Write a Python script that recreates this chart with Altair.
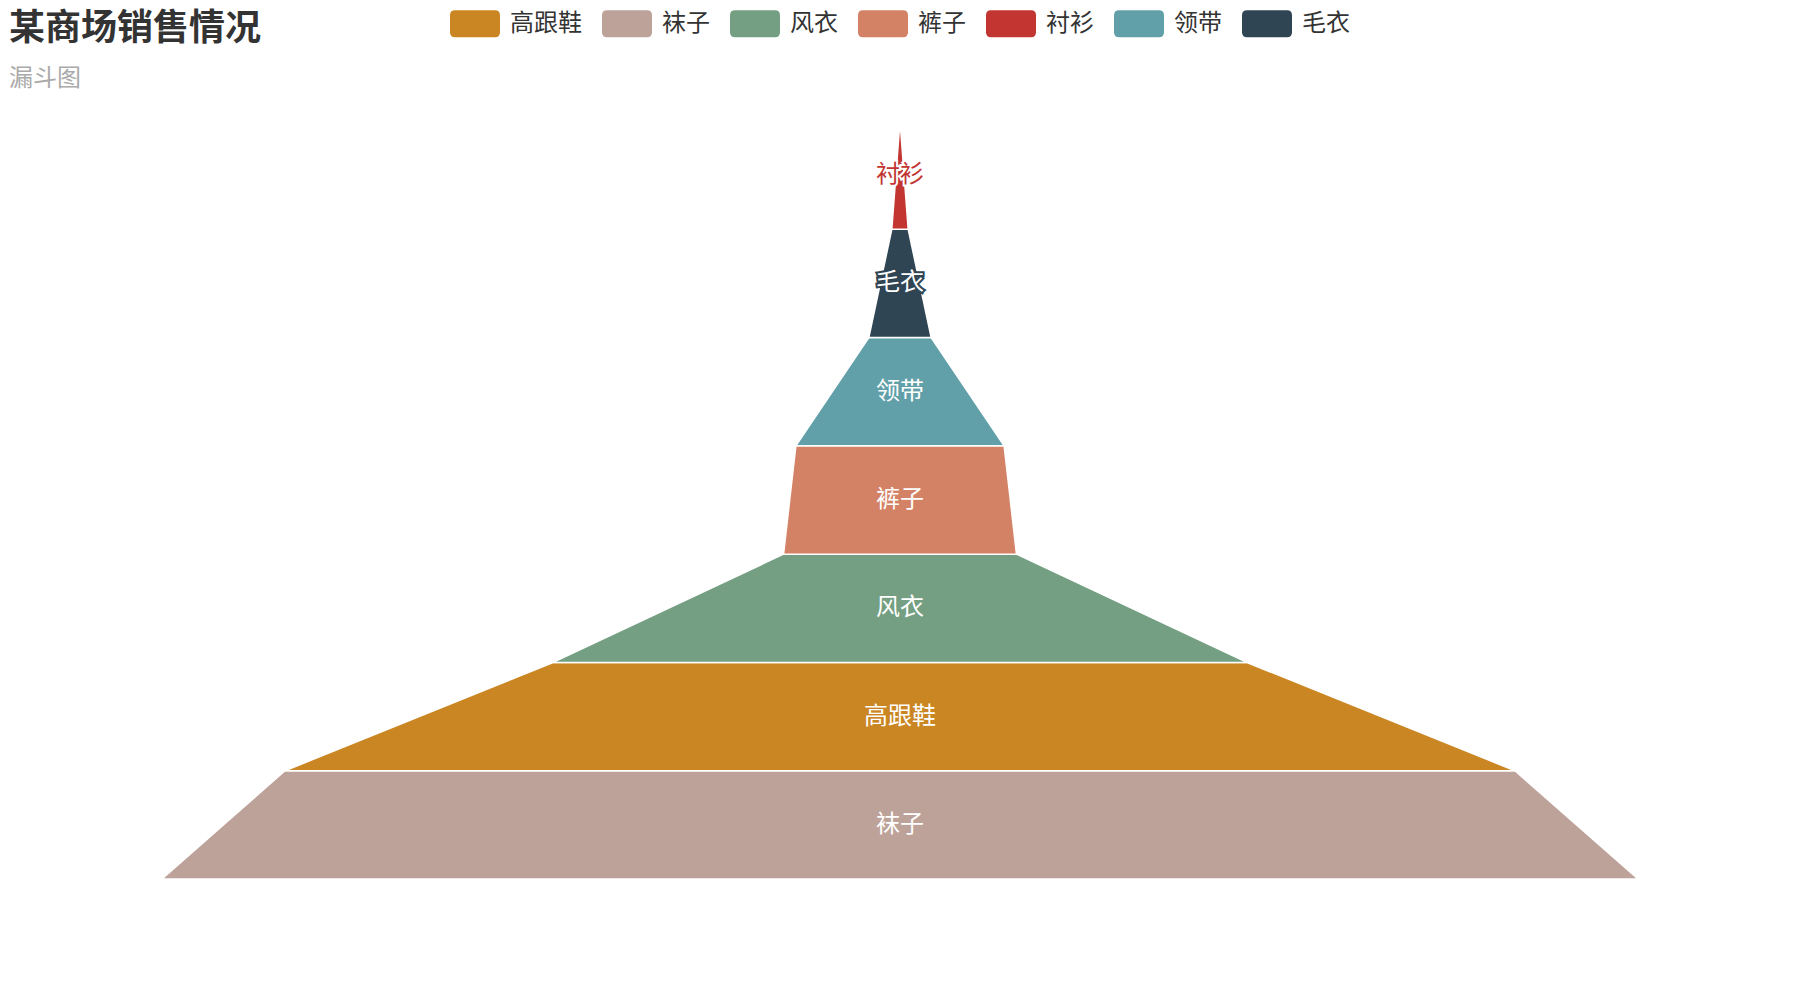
import altair as alt
import pandas as pd

# ---- data ----
names = ['高跟鞋', '袜子', '风衣', '裤子', '衬衫', '领带', '毛衣']
values = [75.0, 90.0, 42.3, 14.2, 1.0, 12.7, 3.8]
colors = ['#ca8622', '#bda29a', '#749f83', '#d48265', '#c23531', '#61a0a8', '#2f4554']
title_text = '某商场销售情况'
subtitle_text = '漏斗图'

FONT = 'Noto Sans CJK SC'

# ---- build funnel polygons (ascending: largest at bottom) ----
order = sorted(range(len(names)), key=lambda i: -values[i])
poly_rows, label_rows = [], []
for rank, i in enumerate(order):
    v = values[i]
    nv = values[order[rank + 1]] if rank + 1 < len(order) else 0.0
    poly_rows.append(dict(name=names[i], k=rank, lo=-v / 2, hi=v / 2))
    poly_rows.append(dict(name=names[i], k=rank + 1, lo=-nv / 2, hi=nv / 2))
    label_rows.append(dict(name=names[i], k=rank + 0.5, mid=0.0,
                           outside=(v + nv) / 2 < 2))
poly = pd.DataFrame(poly_rows)
labels = pd.DataFrame(label_rows)

XD = 900 / 16.4
xscale = alt.Scale(domain=[-XD, XD])
yscale = alt.Scale(domain=[-1.1174, 7.194])
cscale = alt.Scale(domain=names, range=colors)

legend_path = ("M-0.8,-0.54L0.8,-0.54Q1,-0.54 1,-0.34L1,0.34Q1,0.54 0.8,0.54"
               "L-0.8,0.54Q-1,0.54 -1,0.34L-1,-0.34Q-1,-0.54 -0.8,-0.54Z")

area = alt.Chart(poly).mark_area(
    orient='horizontal', stroke='white', strokeWidth=1.5, interpolate='linear', opacity=1
).encode(
    y=alt.Y('k:Q', scale=yscale, axis=None),
    x=alt.X('lo:Q', scale=xscale, axis=None, stack=None),
    x2='hi:Q',
    color=alt.Color('name:N', scale=cscale, legend=alt.Legend(
        title=None, orient='none', legendX=450, legendY=-101.5,
        direction='horizontal', columns=7, symbolType=legend_path,
        symbolSize=2500, symbolStrokeWidth=0, symbolOpacity=1,
        labelFontSize=24, labelFont=FONT, labelColor='#333', labelOffset=10,
        columnPadding=20, padding=0, labelLimit=300)),
    detail='name:N',
)

halo = alt.Chart(labels).mark_text(
    fontSize=24, font=FONT, strokeWidth=4, baseline='middle', align='center'
).encode(
    x=alt.X('mid:Q', scale=xscale, axis=None),
    y=alt.Y('k:Q', scale=yscale, axis=None),
    text='name:N',
    color=alt.condition('datum.outside', alt.value('white'),
                        alt.Color('name:N', scale=cscale, legend=None)),
    stroke=alt.condition('datum.outside', alt.value('white'),
                         alt.Stroke('name:N', scale=cscale, legend=None)),
)

text = alt.Chart(labels).mark_text(
    fontSize=24, font=FONT, baseline='middle', align='center'
).encode(
    x=alt.X('mid:Q', scale=xscale, axis=None),
    y=alt.Y('k:Q', scale=yscale, axis=None),
    text='name:N',
    color=alt.condition('datum.outside',
                        alt.Color('name:N', scale=cscale, legend=None),
                        alt.value('white')),
)

chart = alt.layer(area, halo, text).properties(
    width=1800, height=900,
    padding={'left': 0, 'right': 0, 'top': 100, 'bottom': 0},
    autosize=alt.AutoSizeParams(type='none'),
    background='white',
    title=alt.TitleParams(
        text=title_text, subtitle=subtitle_text, anchor='start', frame='group',
        font=FONT, fontSize=36, fontWeight='bold', color='#333',
        subtitleFont=FONT, subtitleFontSize=24, subtitleColor='#aaa',
        subtitlePadding=19, offset=13, dx=9, dy=106),
).configure_view(strokeWidth=0)

chart.save('out.html', embed_options={'renderer': 'svg', 'actions': False})
